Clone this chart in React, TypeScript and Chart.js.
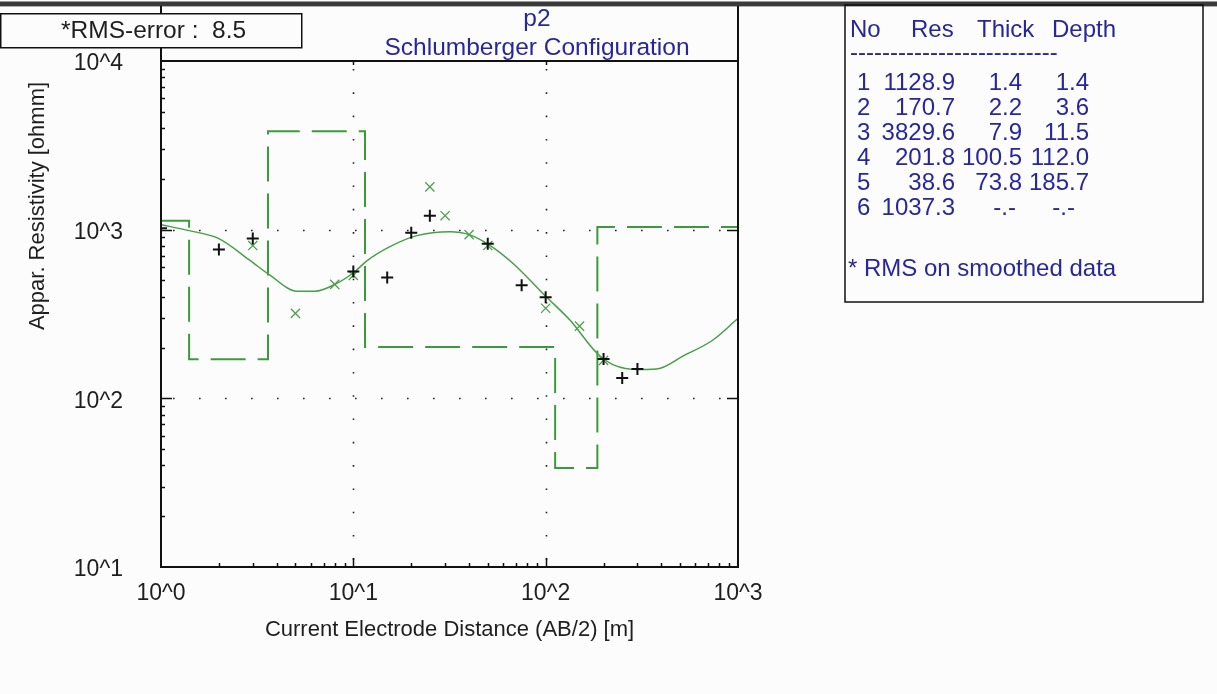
import { useEffect, useRef } from "react";
import { Chart, registerables } from "chart.js";

Chart.register(...registerables);

// ---------- data ----------
const obsX = [1, 2, 3, 10, 15, 20, 25, 50, 75, 100, 200, 250, 300];
const obsY = [1020, 762, 885, 565, 521, 960, 1210, 826, 468, 397, 171, 132, 149];

const smoothX = [3, 5, 8, 10, 25, 30, 40, 50, 100, 150, 200];
const smoothY = [805, 319, 474, 536, 1794, 1210, 935, 805, 342, 268, 168];

const fitX = [1, 1.4, 2, 2.9, 3.7, 5.1, 6.3, 8.2, 10.2, 11.8, 15.5, 21.4, 31.8, 40, 51.5, 67.7, 100, 134, 185, 225, 310, 395, 517, 738, 1000];
const fitY = [1070, 987, 885, 657, 535, 431, 431, 480, 565, 656, 794, 922, 973, 935, 805, 630, 403, 290, 185, 158, 148, 151, 178, 221, 298];

const layerNo = [1, 2, 3, 4, 5, 6];
const layerRes = [1128.9, 170.7, 3829.6, 201.8, 38.6, 1037.3];
const layerThick = [1.4, 2.2, 7.9, 100.5, 73.8];
const layerDepth = [1.4, 3.6, 11.5, 112.0, 185.7];

const xTickValues = [1, 10, 100, 1000];
const xTickLabels = ["10^0", "10^1", "10^2", "10^3"];
const yTickValues = [10, 100, 1000, 10000];
const yTickLabels = ["10^1", "10^2", "10^3", "10^4"];

const xMin = 1;
const xMax = 1000;
const yMin = 10;
const yMax = 10000;

const rmsError = "8.5";
const profileName = "p2";
const configName = "Schlumberger Configuration";
const xTitle = "Current Electrode Distance (AB/2) [m]";
const yTitle = "Appar. Resistivity [ohmm]";
const legendHeader = ["No", "Res", "Thick", "Depth"];
const legendNote = "* RMS on smoothed data";

// ---------- styles ----------
const FONT = "'Liberation Sans', Arial, sans-serif";
const BLUE = "#27279a";
const TEXT = "#1e1e1e";
const STEP_GREEN = "#3b9b3b";
const CURVE_GREEN = "#46a046";
const X_GREEN = "#4f9f4f";
const BG = "#fcfcfc";

const W = 1217;
const H = 694;

const stepX = [xMin, ...layerDepth, xMax];
const stepY = [...layerRes, layerRes[layerRes.length - 1]];

const decorPlugin = {
  id: "decor",
  beforeDraw(chart: any) {
    const ctx = chart.ctx;
    ctx.save();
    ctx.fillStyle = BG;
    ctx.fillRect(0, 0, W, H);
    ctx.restore();
  },
  beforeDatasetsDraw(chart: any) {
    const ctx = chart.ctx;
    const xs = chart.scales.x;
    const ys = chart.scales.y;
    const { left, right, top, bottom } = chart.chartArea;
    ctx.save();
    ctx.strokeStyle = "#222";
    ctx.lineWidth = 1.6;
    ctx.setLineDash([1.6, 21.7]);
    xTickValues.forEach((v) => {
      if (v <= xMin || v >= xMax) return;
      const px = Math.round(xs.getPixelForValue(v)) + 0.5;
      ctx.beginPath();
      ctx.moveTo(px, top + 8);
      ctx.lineTo(px, bottom);
      ctx.stroke();
    });
    ctx.setLineDash([1.6, 24.4]);
    yTickValues.forEach((v) => {
      if (v <= yMin || v >= yMax) return;
      const py = Math.round(ys.getPixelForValue(v)) + 0.5;
      ctx.beginPath();
      ctx.moveTo(left + 12, py);
      ctx.lineTo(right, py);
      ctx.stroke();
    });
    ctx.restore();
  },
  afterDraw(chart: any) {
    const ctx = chart.ctx;
    const xs = chart.scales.x;
    const ys = chart.scales.y;
    const { left, right, top, bottom } = chart.chartArea;
    ctx.save();

    // top dark band
    ctx.fillStyle = "#9a9a9a";
    ctx.fillRect(0, 1, W, 1);
    ctx.fillStyle = "#3a3a3a";
    ctx.fillRect(0, 2, W, 4);
    ctx.fillStyle = "#b0b0b0";
    ctx.fillRect(0, 6, W, 1);

    // frame
    ctx.strokeStyle = "#111";
    ctx.lineWidth = 2;
    ctx.beginPath();
    ctx.moveTo(left, 6);
    ctx.lineTo(left, bottom);
    ctx.lineTo(right, bottom);
    ctx.lineTo(right, 6);
    ctx.moveTo(left, top);
    ctx.lineTo(right, top);
    ctx.stroke();

    // ticks
    ctx.lineWidth = 1.5;
    ctx.beginPath();
    for (let d = 0; d < xTickValues.length - 1; d++) {
      const base = xTickValues[d];
      for (let m = 1; m <= 9; m++) {
        const v = base * m;
        const px = Math.round(xs.getPixelForValue(v)) + 0.5;
        if (m === 1) {
          if (v > xMin) {
            ctx.moveTo(px, bottom);
            ctx.lineTo(px, bottom - 9);
            ctx.moveTo(px, top);
            ctx.lineTo(px, top + 4);
          }
        } else {
          ctx.moveTo(px, bottom);
          ctx.lineTo(px, bottom - 4);
        }
      }
    }
    for (let d = 0; d < yTickValues.length - 1; d++) {
      const base = yTickValues[d];
      for (let m = 1; m <= 9; m++) {
        const v = base * m;
        const py = Math.round(ys.getPixelForValue(v)) + 0.5;
        if (m === 1) {
          if (v > yMin) {
            ctx.moveTo(left, py);
            ctx.lineTo(left + 11, py);
            ctx.moveTo(right, py);
            ctx.lineTo(right - 11, py);
          }
        } else {
          ctx.moveTo(left, py);
          ctx.lineTo(left + 4, py);
        }
      }
    }
    ctx.stroke();

    // RMS box
    ctx.fillStyle = BG;
    ctx.fillRect(0, 13, 302, 35);
    ctx.strokeStyle = "#111";
    ctx.lineWidth = 1.5;
    ctx.strokeRect(0.75, 13.75, 301, 34);
    ctx.fillStyle = TEXT;
    ctx.font = `24.5px ${FONT}`;
    ctx.textAlign = "left";
    ctx.textBaseline = "middle";
    ctx.fillText(`*RMS-error :  ${rmsError}`, 61, 31);

    // title
    ctx.fillStyle = BLUE;
    ctx.textAlign = "center";
    ctx.font = `24.5px ${FONT}`;
    ctx.fillText(profileName, 537, 19);
    ctx.fillText(configName, 537, 48);

    // axis titles
    ctx.fillStyle = TEXT;
    ctx.font = `22px ${FONT}`;
    ctx.fillText(xTitle, (left + right) / 2, 630);
    ctx.save();
    ctx.translate(38, 206);
    ctx.rotate(-Math.PI / 2);
    ctx.fillText(yTitle, 0, 0);
    ctx.restore();

    // legend box
    ctx.strokeStyle = "#111";
    ctx.lineWidth = 1.5;
    ctx.strokeRect(845, 5, 358, 297);
    ctx.fillStyle = BLUE;
    ctx.font = `24px ${FONT}`;
    ctx.textBaseline = "middle";
    ctx.textAlign = "left";
    const hdrX = [850, 911, 977, 1052];
    legendHeader.forEach((t, i) => ctx.fillText(t, hdrX[i], 30));
    ctx.fillText("--------------------------", 850, 53);
    const rowY0 = 83;
    const rowDy = 25;
    layerNo.forEach((n, i) => {
      const y = rowY0 + rowDy * i;
      ctx.textAlign = "left";
      ctx.fillText(String(n), 857, y);
      ctx.textAlign = "right";
      ctx.fillText(layerRes[i].toFixed(1), 955, y);
      const th = i < layerThick.length ? layerThick[i].toFixed(1) : "-.-";
      const de = i < layerDepth.length ? layerDepth[i].toFixed(1) : "-.-";
      ctx.fillText(th, i < layerThick.length ? 1022 : 1016, y);
      ctx.fillText(de, i < layerDepth.length ? 1089 : 1075, y);
    });
    ctx.textAlign = "left";
    ctx.fillText(legendNote, 848, 269);

    ctx.restore();
  },
};

export default function App() {
  const ref = useRef<HTMLCanvasElement>(null);
  useEffect(() => {
    const canvas = ref.current;
    if (!canvas) return;
    const chart = new Chart(canvas, {
      type: "line",
      data: {
        datasets: [
          {
            label: "observed",
            data: obsX.map((x, i) => ({ x, y: obsY[i] })),
            showLine: false,
            pointStyle: "cross",
            pointRadius: 6,
            pointBorderWidth: 2,
            pointBorderColor: "#111",
            pointBackgroundColor: "#111",
            borderColor: "#111",
            order: 0,
          },
          {
            label: "smoothed",
            data: smoothX.map((x, i) => ({ x, y: smoothY[i] })),
            showLine: false,
            pointStyle: "crossRot",
            pointRadius: 6.5,
            pointBorderWidth: 1.3,
            pointBorderColor: X_GREEN,
            borderColor: X_GREEN,
            order: 1,
          },
          {
            label: "model curve",
            data: fitX.map((x, i) => ({ x, y: fitY[i] })),
            borderColor: CURVE_GREEN,
            borderWidth: 1.5,
            pointRadius: 0,
            cubicInterpolationMode: "monotone",
            fill: false,
            order: 2,
          },
          {
            label: "layers",
            data: stepX.map((x, i) => ({ x, y: stepY[i] })),
            borderColor: STEP_GREEN,
            borderWidth: 2,
            borderDash: [35, 12],
            stepped: "before",
            pointRadius: 0,
            fill: false,
            order: 3,
          },
        ],
      },
      options: {
        animation: false,
        responsive: false,
        devicePixelRatio: 1,
        layout: { padding: { top: 61, right: W - 738, left: 0, bottom: 0 } },
        plugins: { legend: { display: false }, tooltip: { enabled: false }, title: { display: false } },
        scales: {
          x: {
            type: "logarithmic",
            min: xMin,
            max: xMax,
            afterBuildTicks: (s: any) => {
              s.ticks = xTickValues.map((v) => ({ value: v }));
            },
            afterFit: (s: any) => {
              s.height = H - 567;
            },
            grid: { display: false, drawTicks: false },
            border: { display: false },
            ticks: {
              autoSkip: false,
              maxRotation: 0,
              minRotation: 0,
              padding: 13,
              color: TEXT,
              font: { family: FONT, size: 23 },
              callback: (_v: any, i: number) => xTickLabels[i],
            },
          },
          y: {
            type: "logarithmic",
            min: yMin,
            max: yMax,
            afterBuildTicks: (s: any) => {
              s.ticks = yTickValues.map((v) => ({ value: v }));
            },
            afterFit: (s: any) => {
              s.width = 161;
            },
            grid: { display: false, drawTicks: false },
            border: { display: false },
            ticks: {
              autoSkip: false,
              padding: 38,
              labelOffset: 3,
              color: TEXT,
              font: { family: FONT, size: 23 },
              callback: (_v: any, i: number) => yTickLabels[i],
            },
          },
        },
      },
      plugins: [decorPlugin],
    });
    return () => chart.destroy();
  }, []);
  return (
    <div style={{ position: "absolute", left: 0, top: 0, width: W, height: H, background: BG }}>
      <canvas ref={ref} width={W} height={H} style={{ display: "block", width: W, height: H }} />
    </div>
  );
}
